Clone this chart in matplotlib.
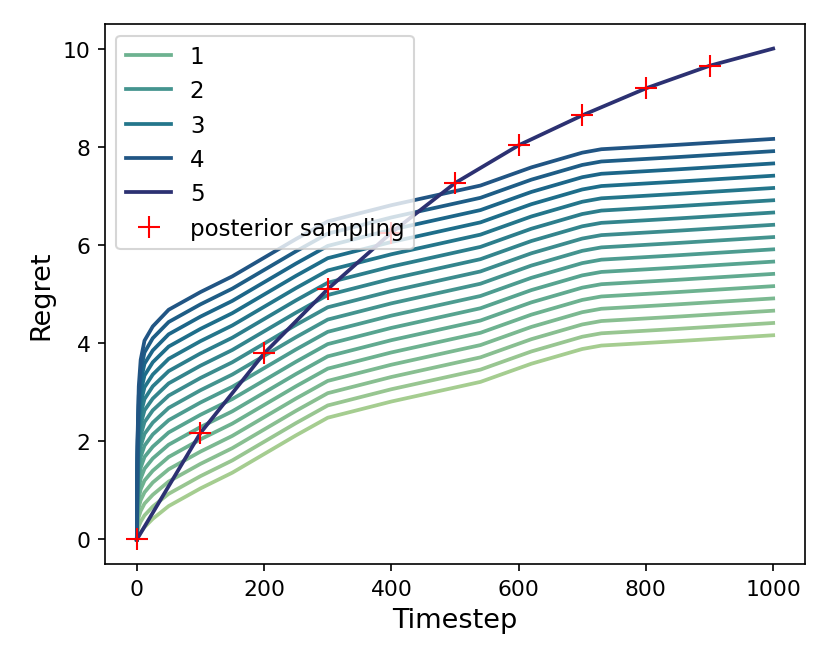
import numpy as np
import matplotlib
matplotlib.use("Agg")
import matplotlib.pyplot as plt
from matplotlib.lines import Line2D
import seaborn as sns

# --- dati ---
timesteps = [0, 1, 3, 6, 12, 25, 50, 100, 150, 200, 250, 300, 400, 540, 620, 700, 730, 850, 1000]

# una curva per ogni livello (dal basso verso l'alto)
hue_levels = [0.0, 0.25, 0.5, 0.75, 1.0, 1.25, 1.5, 1.75, 2.0, 2.25, 2.5, 2.75, 3.0, 3.25, 3.5, 3.75, 4.0]
regret_curves = [
    [0, 0.03, 0.08, 0.14, 0.25, 0.42, 0.68, 1.04, 1.36, 1.74, 2.12, 2.48, 2.81, 3.21, 3.58, 3.88, 3.95, 4.04, 4.16],
    [0, 0.16, 0.27, 0.36, 0.49, 0.67, 0.93, 1.29, 1.61, 1.99, 2.37, 2.73, 3.06, 3.46, 3.83, 4.13, 4.20, 4.29, 4.41],
    [0, 0.28, 0.46, 0.58, 0.73, 0.91, 1.18, 1.54, 1.86, 2.24, 2.62, 2.98, 3.31, 3.71, 4.08, 4.38, 4.45, 4.54, 4.66],
    [0, 0.41, 0.65, 0.80, 0.96, 1.16, 1.43, 1.79, 2.11, 2.49, 2.87, 3.23, 3.56, 3.96, 4.33, 4.63, 4.70, 4.79, 4.91],
    [0, 0.53, 0.84, 1.02, 1.20, 1.40, 1.68, 2.04, 2.36, 2.74, 3.12, 3.48, 3.81, 4.21, 4.58, 4.88, 4.95, 5.04, 5.16],
    [0, 0.66, 1.03, 1.24, 1.44, 1.65, 1.93, 2.29, 2.61, 2.99, 3.37, 3.73, 4.06, 4.46, 4.83, 5.13, 5.20, 5.29, 5.41],
    [0, 0.78, 1.22, 1.46, 1.68, 1.89, 2.18, 2.54, 2.86, 3.24, 3.62, 3.98, 4.31, 4.71, 5.08, 5.38, 5.45, 5.54, 5.66],
    [0, 0.91, 1.41, 1.68, 1.91, 2.14, 2.43, 2.79, 3.11, 3.49, 3.87, 4.23, 4.56, 4.96, 5.33, 5.63, 5.70, 5.79, 5.91],
    [0, 1.03, 1.60, 1.90, 2.15, 2.38, 2.68, 3.04, 3.36, 3.74, 4.12, 4.48, 4.81, 5.21, 5.58, 5.88, 5.95, 6.04, 6.16],
    [0, 1.16, 1.79, 2.12, 2.39, 2.63, 2.93, 3.29, 3.61, 3.99, 4.37, 4.73, 5.06, 5.46, 5.83, 6.13, 6.20, 6.29, 6.41],
    [0, 1.28, 1.98, 2.34, 2.63, 2.87, 3.18, 3.54, 3.86, 4.24, 4.62, 4.98, 5.31, 5.71, 6.08, 6.38, 6.45, 6.54, 6.66],
    [0, 1.41, 2.17, 2.56, 2.86, 3.12, 3.43, 3.79, 4.11, 4.49, 4.87, 5.23, 5.56, 5.96, 6.33, 6.63, 6.70, 6.79, 6.91],
    [0, 1.53, 2.36, 2.78, 3.10, 3.36, 3.68, 4.04, 4.36, 4.74, 5.12, 5.48, 5.81, 6.21, 6.58, 6.88, 6.95, 7.04, 7.16],
    [0, 1.66, 2.55, 3.00, 3.34, 3.61, 3.93, 4.29, 4.61, 4.99, 5.37, 5.73, 6.06, 6.46, 6.83, 7.13, 7.20, 7.29, 7.41],
    [0, 1.78, 2.74, 3.22, 3.58, 3.85, 4.18, 4.54, 4.86, 5.24, 5.62, 5.98, 6.31, 6.71, 7.08, 7.38, 7.45, 7.54, 7.66],
    [0, 1.91, 2.93, 3.44, 3.81, 4.10, 4.43, 4.79, 5.11, 5.49, 5.87, 6.23, 6.56, 6.96, 7.33, 7.63, 7.70, 7.79, 7.91],
    [0, 2.03, 3.12, 3.66, 4.05, 4.34, 4.68, 5.04, 5.36, 5.74, 6.12, 6.48, 6.81, 7.21, 7.58, 7.88, 7.95, 8.04, 8.16],
]

# curva posterior sampling (livello 5)
ps_level = 5.0
ps_timesteps = [0, 100, 200, 300, 400, 500, 600, 700, 800, 900, 1000]
ps_regret = [0, 2.17, 3.79, 5.10, 6.25, 7.26, 8.03, 8.64, 9.19, 9.65, 10.0]
ps_marker_steps = [0, 100, 200, 300, 400, 500, 600, 700, 800, 900]
ps_marker_regret = [0, 2.17, 3.79, 5.10, 6.25, 7.26, 8.03, 8.64, 9.19, 9.65]

legend_levels = [1, 2, 3, 4, 5]

# --- stile ---
plt.rcParams.update({'font.size': 10.5})
plt.rcParams.update({'legend.fontsize': 11})
plt.rcParams.update({'axes.labelsize': 13})
cmap = sns.color_palette("crest", as_cmap=True)
norm = plt.Normalize(0, 5)
lw = 1.8

fig, ax = plt.subplots(figsize=(5.54, 4.433), dpi=150)
fig.subplots_adjust(left=0.1264, right=0.9687, bottom=0.1504, top=0.9624)

for level, curve in zip(hue_levels, regret_curves):
    ax.plot(timesteps, curve, color=cmap(norm(level)), lw=lw)

ax.plot(ps_timesteps, ps_regret, color=cmap(norm(ps_level)), lw=lw)
ax.plot(ps_marker_steps, ps_marker_regret, '+', color='red', markersize=11, mew=1.0, ls='none')

ax.set_xlabel('Timestep')
ax.set_ylabel('Regret')

# legenda
handles = [Line2D([], [], color=cmap(norm(v)), lw=lw) for v in legend_levels]
handles.append(Line2D([], [], color='red', marker='+', markersize=11, mew=1.0, ls='none'))
labels = [str(v) for v in legend_levels] + ['posterior sampling']
ax.legend(handles, labels, loc='upper left')

fig.savefig('out.png', dpi=150)
